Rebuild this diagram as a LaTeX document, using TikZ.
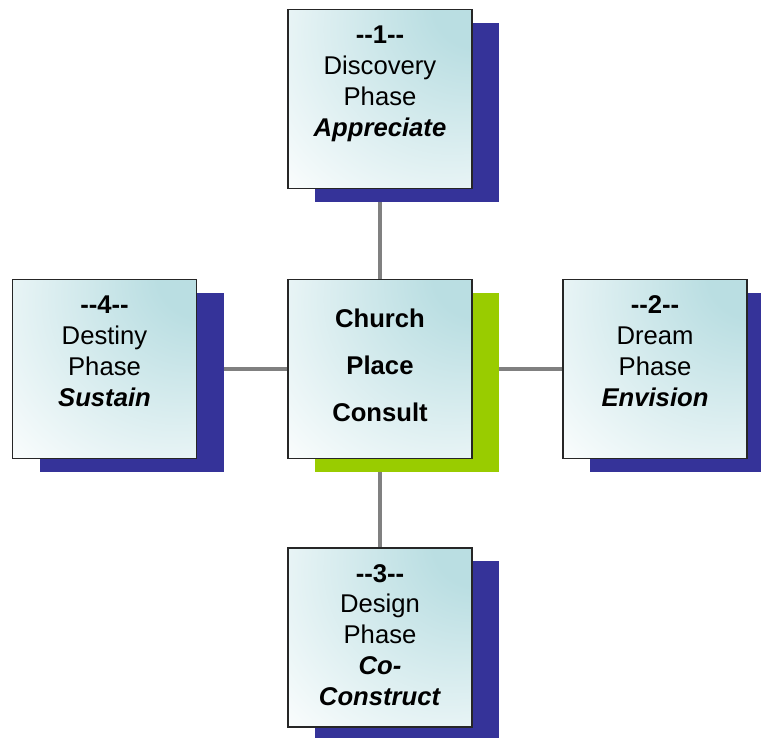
\documentclass[tikz,border=0pt]{standalone}
\usepackage{fontspec}
\setmainfont{Liberation Sans}
\usepackage{tikz}
\usetikzlibrary{positioning, shadows, backgrounds}

\definecolor{shadowblue}{RGB}{53,51,153}
\definecolor{hubgreen}{RGB}{153,204,0}
\definecolor{boxteal}{RGB}{186,222,226}
\definecolor{linkgray}{RGB}{128,128,128}
\pgfdeclareradialshading{phaseshade}{\pgfpoint{30bp}{30bp}}{color(0bp)=(boxteal); color(12bp)=(boxteal); color(58bp)=(white); color(100bp)=(white)}

\begin{document}
\begin{tikzpicture}[
  font=\fontsize{14.6}{17.6}\selectfont,
  card/.style={draw=black!85, line width=0.8pt, shade, shading=phaseshade, minimum width=3.68cm, minimum height=3.58cm, inner sep=0pt},
  phase/.style={card, general shadow={fill=shadowblue, draw=none, shadow xshift=0.54cm, shadow yshift=-0.27cm}},
  hub/.style={card, align=center, text depth=0.15cm, font=\fontsize{14.6}{26.6}\selectfont\bfseries,
    general shadow={fill=hubgreen, draw=none, shadow xshift=0.54cm, shadow yshift=-0.27cm}},
  phasetext/.style={align=center, inner sep=0pt},
  link/.style={line width=2.8pt, linkgray},
]
\useasboundingbox (0,0) rectangle (15.22,14.76);
\node[hub] (hub) at (7.6,7.38) {Church\\Place\\Consult};
\node[phase] (discovery) at (7.6,12.78) {};
\node[phase] (dream) at (13.1,7.38) {};
\node[phase] (design) at (7.6,2.01) {};
\node[phase] (destiny) at (2.09,7.38) {};
\node[phasetext, below=0.33cm of discovery.north] (discoverytext) {\textbf{-{}-1-{}-}\\Discovery\\Phase\\\textbf{\textit{Appreciate}}};
\node[phasetext, below=0.33cm of dream.north] (dreamtext) {\textbf{-{}-2-{}-}\\Dream\\Phase\\\textbf{\textit{Envision}}};
\node[phasetext, below=0.33cm of design.north] (designtext) {\textbf{-{}-3-{}-}\\Design\\Phase\\\textbf{\textit{Co-}}\\\textbf{\textit{Construct}}};
\node[phasetext, below=0.33cm of destiny.north] (destinytext) {\textbf{-{}-4-{}-}\\Destiny\\Phase\\\textbf{\textit{Sustain}}};
\begin{scope}[on background layer]
  \foreach \n in {discovery, dream, design, destiny}
    \draw[link] (hub) -- (\n);
\end{scope}
\end{tikzpicture}
\end{document}
